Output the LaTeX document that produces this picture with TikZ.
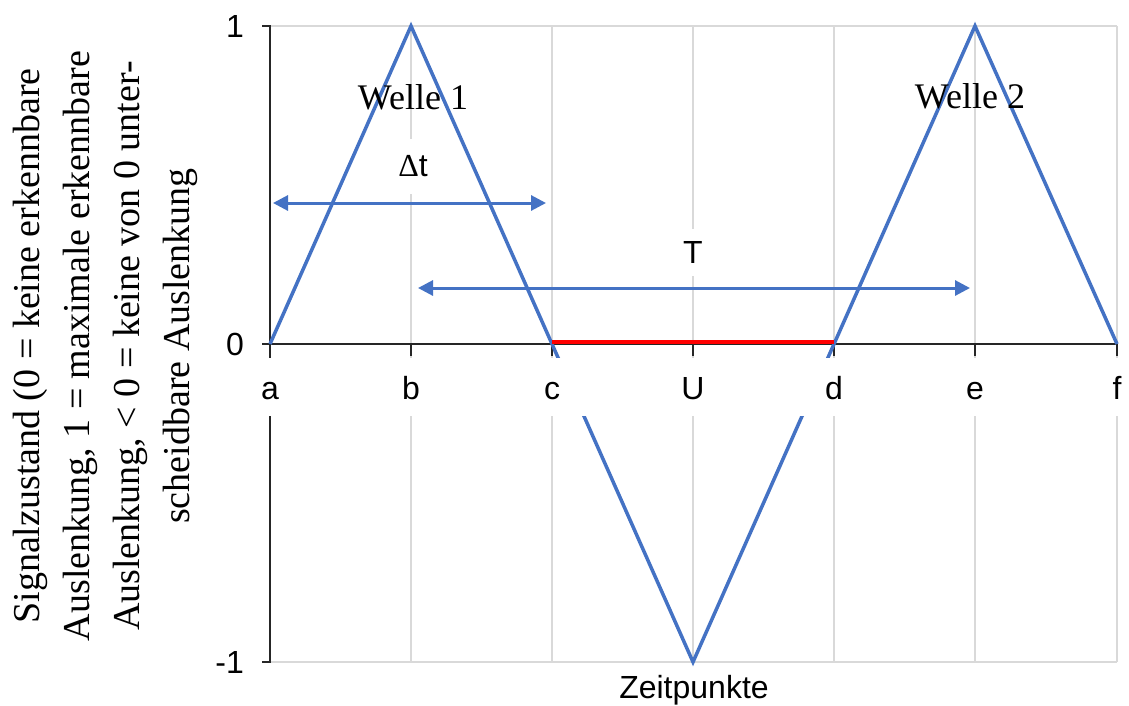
\documentclass[tikz,border=0pt]{standalone}
\usepackage{fontspec}
\setmainfont{Liberation Serif}
\setsansfont{Liberation Sans}
\usetikzlibrary{arrows.meta}
\definecolor{xlblue}{HTML}{4472C4}
\definecolor{xlgrid}{HTML}{D9D9D9}
\definecolor{xlred}{HTML}{FF0000}
\begin{document}
\begin{tikzpicture}[x=1pt,y=-1pt,
  gridline/.style={draw=xlgrid, line width=1.5pt},
  axisline/.style={draw=black!85, line width=2pt},
  wave/.style={draw=xlblue, line width=3.5pt, line join=miter},
  gap/.style={draw=xlred, line width=4pt},
  dblarrow/.style={draw=xlblue, line width=3pt, {Triangle[length=15pt,width=15pt]}-{Triangle[length=15pt,width=15pt]}},
  ticklab/.style={font=\sffamily\fontsize{32}{38}\selectfont, anchor=base, inner sep=0pt},
  ylab/.style={font=\sffamily\fontsize{32}{38}\selectfont, anchor=east, inner sep=0pt},
  datalab/.style={font=\sffamily\fontsize{32}{38}\selectfont, fill=white, inner xsep=6pt, inner ysep=0pt},
  wavelab/.style={font=\rmfamily\fontsize{36}{42}\selectfont, anchor=base, inner sep=0pt},
  ytitle/.style={font=\rmfamily\fontsize{38}{50}\selectfont, rotate=90, align=center, inner sep=0pt}
]
\useasboundingbox (0,0) rectangle (1129,705);
\fill[white] (0,0) rectangle (1129,705);
% grid
\foreach \gx in {411,552,693,834,975,1117} \draw[gridline] (\gx,26) -- (\gx,662);
\draw[gridline] (270,26) -- (1117,26);
\draw[gridline] (270,662) -- (1117,662);
% axes
\draw[axisline] (262,26) -- (270,26) -- (270,662) -- (262,662);
\draw[axisline] (262,344) -- (1117,344);
\foreach \gx in {270,411,552,693,834,975,1117} \draw[axisline] (\gx,344) -- (\gx,356);
% data points
\coordinate (pa) at (270,344);
\coordinate (pb) at (411,26);
\coordinate (pc) at (552,344);
\coordinate (pU) at (693,662);
\coordinate (pd) at (834,344);
\coordinate (pe) at (975,26);
\coordinate (pf) at (1117,344);
\coordinate (rc) at (552,342);
\coordinate (rd) at (834,342);
\draw[wave] (pa) -- (pb) -- (pc) -- (pU) -- (pd) -- (pe) -- (pf);
\draw[gap] (rc) -- (rd);
% label band
\fill[white] (250,358) rectangle (1125,416);
% tick labels
\node[ticklab] (la) at (270,399) {a};
\node[ticklab] (lb) at (411,399) {b};
\node[ticklab] (lc) at (552,399) {c};
\node[ticklab] (lU) at (693,399) {U};
\node[ticklab] (ld) at (834,399) {d};
\node[ticklab] (le) at (975,399) {e};
\node[ticklab] (lf) at (1117,399) {f};
\node[ylab] (y1) at (244,26) {1};
\node[ylab] (y0) at (244,344) {0};
\node[ylab] (ym) at (244,662) {-1};
\node[ticklab] (xtitle) at (694,698) {Zeitpunkte};
% arrows
\coordinate (dta) at (273,203);
\coordinate (dtb) at (546,203);
\coordinate (Ta) at (418,288);
\coordinate (Tb) at (970,288);
\draw[dblarrow] (dta) -- (dtb);
\draw[dblarrow] (Ta) -- (Tb);
\node[datalab, minimum height=55pt] (ldt) at (413,166) {{\rmfamily Δ}t};
\node[datalab, minimum height=47pt] (lT) at (693,252) {T};
% wave labels
\node[wavelab] (w1) at (413,109) {Welle 1};
\node[wavelab] (w2) at (970,108) {Welle 2};
% y title
\node[ytitle] (yt) at (105,346) {Signalzustand (0 = keine erkennbare\\Auslenkung, 1 = maximale erkennbare\\Auslenkung, < 0 = keine von 0 unter-\\scheidbare Auslenkung};
\end{tikzpicture}
\end{document}
